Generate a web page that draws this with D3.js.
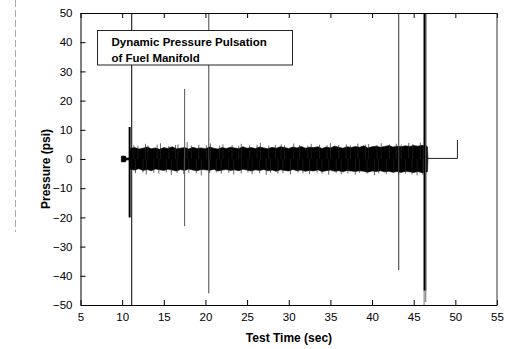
<!DOCTYPE html>
<html>
<head>
<meta charset="utf-8">
<script src="https://cdn.jsdelivr.net/npm/d3@7"></script>
<style>
  body { margin: 0; background: #fff; }
  svg { display: block; }
  .tick text { font-family: "Liberation Sans", Arial, sans-serif; font-size: 11.5px; fill: #000; }
  .axisTitle { font-family: "Liberation Sans", Arial, sans-serif; font-size: 12px; font-weight: bold; fill: #000; }
</style>
</head>
<body>
<div id="chart"></div>
<script>
// ticks
var timeTicks = [5, 10, 15, 20, 25, 30, 35, 40, 45, 50, 55];
var pressureTicks = [-50, -40, -30, -20, -10, 0, 10, 20, 30, 40, 50];

// envelope of the pulsation band (sec, psi)
var bandTime = [9.9, 10.4, 10.5, 10.85,
  11, 11.5, 12, 12.5, 13, 13.5, 14, 14.5, 15, 15.5, 16, 16.5, 17, 17.5, 18, 18.5,
  19, 19.5, 20, 20.5, 21, 21.5, 22, 22.5, 23, 23.5, 24, 24.5, 25, 25.5, 26, 26.5,
  27, 27.5, 28, 28.5, 29, 29.5, 30, 30.5, 31, 31.5, 32, 32.5, 33, 33.5, 34, 34.5,
  35, 35.5, 36, 36.5, 37, 37.5, 38, 38.5, 39, 39.5, 40, 40.5, 41, 41.5, 42, 42.5,
  43, 43.5, 44, 44.5, 45, 45.5, 46, 46.5,
  46.65, 46.7];
var bandUpper = [1.0, 1.0, 0.3, 0.3,
  3.6, 3.9, 3.4, 3.7, 4.1, 3.5, 3.8, 3.3, 3.9, 3.6, 4.2, 3.5, 3.7, 3.9, 3.4, 4.0,
  3.6, 3.8, 3.5, 4.1, 3.7, 3.4, 3.9, 3.6, 4.0, 3.8, 3.5, 4.2, 3.7, 3.9, 3.6, 4.1,
  3.8, 3.5, 4.0, 3.7, 4.2, 3.9, 3.6, 4.1, 3.8, 4.3, 3.7, 4.0, 3.9, 4.2, 3.6, 4.1,
  3.8, 4.4, 4.0, 3.7, 4.2, 3.9, 4.3, 4.0, 4.5, 3.8, 4.2, 4.4, 4.0, 4.3, 4.6, 4.1,
  4.4, 4.2, 4.5, 4.3, 4.6, 4.4, 4.7, 4.5,
  4.2, 0.4];
var bandLower = [-1.0, -1.0, -0.3, -0.3,
  -3.5, -3.8, -3.3, -3.9, -3.6, -4.0, -3.4, -3.7, -3.9, -3.5, -3.8, -4.1, -3.6, -3.9, -3.4, -3.8,
  -4.0, -3.6, -3.7, -3.9, -3.5, -4.1, -3.8, -3.6, -3.9, -3.7, -4.0, -3.5, -3.8, -4.1, -3.7, -3.9,
  -3.6, -4.0, -3.8, -4.2, -3.7, -3.9, -4.1, -3.6, -4.0, -3.8, -4.2, -3.9, -4.1, -3.7, -4.3, -4.0,
  -3.8, -4.2, -4.0, -4.4, -3.9, -4.1, -4.3, -4.0, -4.2, -4.5, -4.1, -4.3, -4.0, -4.4, -4.2, -4.5,
  -4.3, -4.6, -4.2, -4.4, -4.6, -4.3, -4.7, -4.5,
  -4.3, -0.2];

// single strands sticking out of the band
var fringeUpTime = [11.4, 11.9, 12.8, 13.1, 14.2, 14.6, 15.6, 16.4, 16.7, 17.8, 18.3, 19.2, 20.1, 20.6,
  21.7, 22.1, 23.2, 24.0, 24.3, 25.3, 26.2, 26.6, 27.6, 28.4, 29.1, 29.5, 30.6, 31.3, 32.3, 32.7,
  33.7, 34.6, 35.0, 36.0, 36.9, 37.4, 38.3, 39.2, 39.6, 40.6, 41.1, 42.1, 42.9, 43.5, 44.4, 44.9, 45.8, 46.3];
var fringeUpValue = [4.7, 4.5, 5.2, 4.6, 4.9, 5.4, 4.5, 4.8, 5.0, 5.8, 4.6, 4.9, 4.7, 5.3,
  4.6, 5.0, 4.8, 4.5, 5.2, 4.7, 4.9, 5.5, 4.6, 4.8, 5.0, 4.7, 5.3, 4.8, 4.6, 5.2,
  4.9, 4.7, 5.4, 4.8, 5.0, 4.7, 5.3, 4.9, 5.1, 4.8, 5.4, 5.0, 5.2, 4.9, 5.5, 5.1, 5.6, 5.8];
var fringeDownTime = [11.6, 12.5, 12.9, 13.8, 14.4, 15.3, 15.9, 16.6, 17.4, 18.0, 18.9, 19.5, 20.5, 21.3,
  21.9, 22.8, 23.4, 24.3, 25.1, 25.6, 26.5, 27.3, 27.8, 28.7, 29.3, 30.2, 31.1, 31.7, 32.5, 33.4,
  34.0, 34.8, 35.7, 36.3, 37.1, 38.0, 38.5, 39.4, 40.3, 40.8, 41.7, 42.6, 43.2, 44.0, 44.8, 45.4, 46.1];
var fringeDownValue = [-4.9, -4.6, -5.3, -4.7, -5.0, -4.6, -5.5, -4.8, -5.2, -4.7, -4.9, -5.6, -4.8, -4.6,
  -5.0, -4.7, -5.3, -4.9, -4.6, -5.2, -4.8, -5.4, -4.7, -5.0, -4.8, -5.3, -4.6, -4.9, -5.2, -4.7,
  -5.0, -5.4, -4.8, -5.2, -4.9, -5.3, -4.7, -5.0, -5.5, -4.9, -5.2, -4.8, -5.4, -5.0, -5.3, -5.6, -5.4];

// isolated spikes (sec, top psi, bottom psi)
var spikeTime = [10.9, 11.15, 17.5, 20.4, 43.2, 46.25, 46.35, 46.45];
var spikeHigh = [11, 50, 24, 50, 50, 50, 50, 50];
var spikeLow  = [-20, -50, -23, -46, -38, -50, -45, -49];

// flat tail after shutdown
var tailTime  = [46.7, 50.25, 50.25];
var tailValue = [0.2, 0.2, 6.5];

var svgWidth = 510, svgHeight = 349;
var plotLeft = 80.5, plotRight = 497, plotTop = 13, plotBottom = 305;
var font = '"Liberation Sans", Arial, sans-serif';

var svg = d3.select("#chart").append("svg")
  .attr("width", svgWidth)
  .attr("height", svgHeight);

var x = d3.scaleLinear().domain([5, 55]).range([plotLeft, plotRight]);
var y = d3.scaleLinear().domain([-50, 50]).range([plotBottom, plotTop]);

svg.append("clipPath").attr("id", "plotClip")
  .append("rect").attr("x", plotLeft).attr("y", plotTop)
  .attr("width", plotRight - plotLeft).attr("height", plotBottom - plotTop);

// faint scanner streak on the far left
svg.append("line")
  .attr("x1", 15.5).attr("x2", 15.5).attr("y1", 0).attr("y2", 232)
  .attr("stroke", "#aaa").attr("stroke-width", 1)
  .attr("stroke-dasharray", "7,3");

var plot = svg.append("g").attr("clip-path", "url(#plotClip)");

// the band
var area = d3.area()
  .x(function(d, i) { return x(bandTime[i]); })
  .y0(function(d, i) { return y(bandLower[i]); })
  .y1(function(d, i) { return y(bandUpper[i]); });
plot.append("path")
  .datum(bandTime)
  .attr("d", area)
  .attr("fill", "#000")
  .attr("stroke", "#000")
  .attr("stroke-width", 0.6);

plot.selectAll(".fringeUp")
  .data(fringeUpTime)
  .enter().append("line")
  .attr("x1", function(d) { return x(d); })
  .attr("x2", function(d) { return x(d); })
  .attr("y1", y(0))
  .attr("y2", function(d, i) { return y(fringeUpValue[i]); })
  .attr("stroke", "#222").attr("stroke-width", 0.7);

plot.selectAll(".fringeDown")
  .data(fringeDownTime)
  .enter().append("line")
  .attr("x1", function(d) { return x(d); })
  .attr("x2", function(d) { return x(d); })
  .attr("y1", y(0))
  .attr("y2", function(d, i) { return y(fringeDownValue[i]); })
  .attr("stroke", "#222").attr("stroke-width", 0.7);

// spikes - style per spike (onset thick, stray ones grey)
var spikeColor = ["#000", "#000", "#555", "#444", "#444", "#777", "#000", "#666"];
var spikeWidth = [2, 1, 1, 1, 1.1, 1, 2.6, 1];
plot.selectAll(".spike")
  .data(spikeTime)
  .enter().append("line")
  .attr("x1", function(d) { return x(d); })
  .attr("x2", function(d) { return x(d); })
  .attr("y1", function(d, i) { return y(spikeHigh[i]); })
  .attr("y2", function(d, i) { return y(spikeLow[i]); })
  .attr("stroke", function(d, i) { return spikeColor[i]; })
  .attr("stroke-width", function(d, i) { return spikeWidth[i]; });

plot.append("path")
  .datum(tailTime)
  .attr("d", d3.line()
    .x(function(d, i) { return x(tailTime[i]); })
    .y(function(d, i) { return y(tailValue[i]); }))
  .attr("fill", "none")
  .attr("stroke", "#222")
  .attr("stroke-width", 1);

// title box sits on top of the trace
svg.append("rect")
  .attr("x", 97.5).attr("y", 30.5)
  .attr("width", 195).attr("height", 34.5)
  .attr("fill", "#fff")
  .attr("stroke", "#222").attr("stroke-width", 1);
svg.append("text")
  .attr("x", 111.5).attr("y", 46)
  .attr("font-family", font).attr("font-size", "11.5px").attr("font-weight", "bold")
  .text("Dynamic Pressure Pulsation");
svg.append("text")
  .attr("x", 111.5).attr("y", 61.5)
  .attr("font-family", font).attr("font-size", "11.5px").attr("font-weight", "bold")
  .text("of Fuel Manifold");

// axes, ticks pointing inward
svg.append("g")
  .attr("transform", "translate(0," + plotBottom + ")")
  .call(d3.axisBottom(x).tickValues(timeTicks).tickSizeInner(-5).tickSizeOuter(0).tickPadding(8));
svg.append("g")
  .attr("transform", "translate(0," + plotTop + ")")
  .call(d3.axisTop(x).tickValues(timeTicks).tickSizeInner(-5).tickSizeOuter(0).tickFormat(""));
svg.append("g")
  .attr("transform", "translate(" + plotLeft + ",0)")
  .call(d3.axisLeft(y).tickValues(pressureTicks).tickSizeInner(-5).tickSizeOuter(0).tickPadding(8));
svg.append("line")
  .attr("x1", plotRight).attr("x2", plotRight).attr("y1", plotTop).attr("y2", plotBottom)
  .attr("stroke", "#333").attr("stroke-width", 1);

svg.selectAll(".domain").attr("stroke", "#000");
svg.selectAll(".tick line").attr("stroke", "#000");

// axis labels
svg.append("text")
  .attr("class", "axisTitle")
  .attr("text-anchor", "middle")
  .attr("transform", "translate(50,169) rotate(-90)")
  .text("Pressure (psi)");
svg.append("text")
  .attr("class", "axisTitle")
  .attr("text-anchor", "middle")
  .attr("x", 289).attr("y", 342)
  .text("Test Time (sec)");
</script>
</body>
</html>
